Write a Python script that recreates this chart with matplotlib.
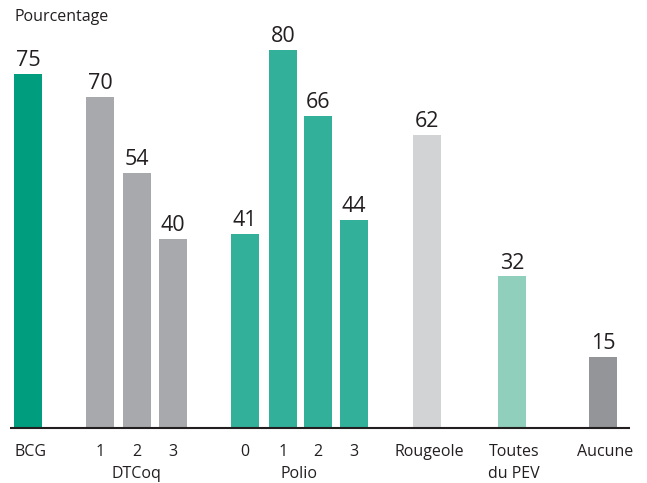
import matplotlib
matplotlib.use("Agg")
import matplotlib.pyplot as plt

categories = ["BCG", "1", "2", "3", "0", "1", "2", "3", "Rougeole", "Toutes\ndu PEV", "Aucune"]
values = [75, 70, 54, 40, 41, 80, 66, 44, 62, 32, 15]
groups = {"DTCoq": [1, 2, 3], "Polio": [4, 5, 6, 7]}
colors = ["#009E7E", "#A7A9AC", "#A7A9AC", "#A7A9AC", "#33B09A", "#33B09A", "#33B09A",
          "#33B09A", "#D1D3D4", "#8FCFBC", "#939598"]

# layout (pixel-like horizontal units)
x_pos = [28, 100, 137, 173, 245, 283, 318, 354, 427, 512, 603]
bar_w = 28
W, H = 647, 483
base_y = 427.5
top_y = 10
px_per_unit = 4.72

plt.rcParams['font.family'] = ['Open Sans', 'DejaVu Sans']
fig = plt.figure(figsize=(W / 100, H / 100), dpi=100)
ax = fig.add_axes([0, (H - base_y) / H, 1, (base_y - top_y) / H])
ax.set_xlim(0, W)
ax.set_ylim(0, (base_y - top_y) / px_per_unit)
ax.axis('off')

ax.bar(x_pos, values, width=bar_w, color=colors, zorder=2)
for x, v in zip(x_pos, values):
    ax.annotate(str(v), (x, v), xytext=(0, 2), textcoords='offset points',
                ha='center', va='bottom', fontsize=15.5, color='#231F20')

ax.axhline(0, xmin=10 / W, xmax=630 / W, color='#231F20', lw=1.5, clip_on=False,
           zorder=3, solid_capstyle='butt')

fs = 11.5
label_y = -(452 - base_y) / px_per_unit
row2_y = -(474 - base_y) / px_per_unit
for i, (x, c) in enumerate(zip(x_pos, categories)):
    if "\n" in c:
        a, b = c.split("\n")
        ax.text(x + 2, label_y, a, ha='center', va='center', fontsize=fs, color='#231F20')
        ax.text(x + 2, row2_y, b, ha='center', va='center', fontsize=fs, color='#231F20')
    else:
        ax.text(x + (2 if i in (0, 8, 10) else 0), label_y, c, ha='center', va='center',
                fontsize=fs, color='#231F20')
for g, idx in groups.items():
    cx = (x_pos[idx[0]] + x_pos[idx[-1]]) / 2
    ax.text(cx, row2_y, g, ha='center', va='center', fontsize=fs, color='#231F20')

fig.text(14 / W, 1 - 17 / H, "Pourcentage", ha='left', va='center', fontsize=fs, color='#231F20')

fig.savefig("out.png", dpi=100)
